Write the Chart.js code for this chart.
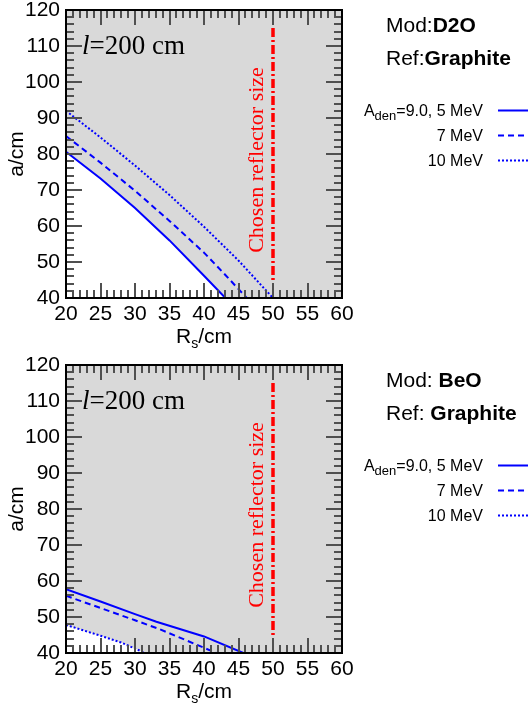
<!DOCTYPE html>
<html>
<head>
<meta charset="utf-8">
<script src="https://cdn.jsdelivr.net/npm/chart.js@4.4.1/dist/chart.umd.min.js"></script>
<style>
  html, body { margin: 0; padding: 0; background: #fff; }
  canvas { position: absolute; left: 0; }
  #top { top: 0; }
  #bottom { top: 355px; }
</style>
</head>
<body>
<canvas id="top" width="528" height="355"></canvas>
<canvas id="bottom" width="528" height="355"></canvas>
<script>
// D2O moderator, graphite reflector (top panel)
let d2oRs5 = [20, 25, 30, 35, 40, 43.1];
let d2oA5 = [80.6, 73.2, 65.0, 56.0, 46.2, 40];
let d2oRs7 = [20, 25, 30, 35, 40, 43, 46.2];
let d2oA7 = [85, 77.6, 69.8, 61.4, 52.6, 46.6, 40];
let d2oRs10 = [20, 25, 30, 35, 40, 45, 50];
let d2oA10 = [92, 84.6, 76.8, 68.6, 59.8, 50.4, 40];

// BeO moderator, graphite reflector (bottom panel)
let beoRs5 = [20, 25, 30, 33.1, 40, 45.7];
let beoA5 = [57.7, 54.3, 50.8, 48.7, 44.6, 40];
let beoRs7 = [20, 25, 30, 33.6, 41.8];
let beoA7 = [55.9, 52.5, 49.1, 46.6, 40];
let beoRs10 = [20, 25, 28, 31.5];
let beoA10 = [47.8, 44.8, 42.9, 40];

// chosen reflector size marker
let reflectorRs = [50, 50];
let reflectorA = [115, 45];

let energyLabels = ['5 MeV', '7 MeV', '10 MeV'];
let lineDashes = [[], [6, 4], [2, 2]];

const blue = '#0000ff';
const sans = '"Liberation Sans", Arial, sans-serif';
const serif = '"Liberation Serif", "Times New Roman", serif';

function pts(xs, ys) {
  return xs.map((x, i) => ({ x: x, y: ys[i] }));
}

function textRuns(ctx, parts, x, y, align) {
  let w = 0;
  parts.forEach(p => { ctx.font = p[1]; w += ctx.measureText(p[0]).width; });
  let cx = align === 'right' ? x - w : align === 'center' ? x - w / 2 : x;
  ctx.textAlign = 'left';
  ctx.textBaseline = 'alphabetic';
  parts.forEach(p => {
    ctx.font = p[1];
    ctx.fillText(p[0], cx, y + (p[2] || 0));
    cx += ctx.measureText(p[0]).width;
  });
}

const panelDeco = {
  id: 'panelDeco',
  beforeDatasetsDraw(chart) {
    const { ctx, chartArea: a } = chart;
    ctx.save();
    ctx.fillStyle = '#d9d9d9';
    ctx.fillRect(a.left, a.top, a.width, a.height);
    ctx.restore();
  },
  afterDatasetsDraw(chart) {
    const ctx = chart.ctx;
    const a = chart.chartArea;
    const info = chart.options.plugins.panelDeco;
    const xs = chart.scales.x, ys = chart.scales.y;
    ctx.save();
    ctx.setLineDash([]);

    // inward ticks on all four sides
    ctx.fillStyle = '#505050';
    for (let v = xs.min; v <= xs.max; v += 1) {
      const px = Math.round(xs.getPixelForValue(v)) - 1;
      const len = (v % 5 === 0) ? 15 : 8;
      ctx.fillRect(px, a.bottom - len, 2, len);
      ctx.fillRect(px, a.top, 2, len);
    }
    for (let v = ys.min; v <= ys.max; v += 2) {
      const py = Math.round(ys.getPixelForValue(v)) - 1;
      const len = (v % 10 === 0) ? 16 : 8;
      ctx.fillRect(a.left, py, len, 2);
      ctx.fillRect(a.right - len, py, len, 2);
    }
    // frame
    ctx.fillStyle = '#000000';
    ctx.fillRect(a.left - 1, a.top - 1, a.right - a.left + 2, 2);
    ctx.fillRect(a.left - 1, a.bottom - 1, a.right - a.left + 2, 2);
    ctx.fillRect(a.left - 1, a.top - 1, 2, a.bottom - a.top + 2);
    ctx.fillRect(a.right - 1, a.top - 1, 2, a.bottom - a.top + 2);

    // axis titles
    ctx.save();
    ctx.translate(17, (a.top + a.bottom) / 2);
    ctx.rotate(-Math.PI / 2);
    ctx.font = '21px ' + sans;
    ctx.textAlign = 'center';
    ctx.textBaseline = 'middle';
    ctx.fillText('a/cm', 0, 0);
    ctx.restore();
    textRuns(ctx, [['R', '21px ' + sans], ['s', '14px ' + sans, 5], ['/cm', '21px ' + sans]],
      (a.left + a.right) / 2, a.bottom + 45, 'center');

    // l = 200 cm
    textRuns(ctx, [['l', 'italic 27px ' + serif], ['=200 cm', '27px ' + serif]], 82, a.top + 43.5, 'left');

    // reflector label
    ctx.save();
    ctx.fillStyle = '#ff0000';
    ctx.translate(257, 160);
    ctx.rotate(-Math.PI / 2);
    ctx.font = '22px ' + serif;
    ctx.textAlign = 'center';
    ctx.textBaseline = 'middle';
    ctx.fillText('Chosen reflector size', 0, 0);
    ctx.restore();

    // moderator / reflector names
    textRuns(ctx, [[info.modPrefix, '21px ' + sans], [info.mod, 'bold 21px ' + sans]], 386, 32, 'left');
    textRuns(ctx, [[info.refPrefix, '21px ' + sans], [info.ref, 'bold 21px ' + sans]], 386, 65, 'left');

    // legend
    for (let i = 0; i < 3; i++) {
      const y = 110 + 25 * i;
      if (i === 0) {
        textRuns(ctx, [['A', '16px ' + sans], ['den', '13px ' + sans, 4], ['=9.0, ' + energyLabels[i], '16px ' + sans]], 483, y + 6, 'right');
      } else {
        textRuns(ctx, [[energyLabels[i], '16px ' + sans]], 483, y + 6, 'right');
      }
      ctx.strokeStyle = blue;
      ctx.lineWidth = 2;
      ctx.setLineDash(lineDashes[i]);
      ctx.beginPath();
      ctx.moveTo(498, y + 0.5);
      ctx.lineTo(540, y + 0.5);
      ctx.stroke();
      ctx.setLineDash([]);
    }
    ctx.restore();
  }
};

function makePanel(id, series, lowest, info) {
  let datasets = series.map((s, i) => ({
    data: pts(s[0], s[1]),
    borderColor: blue,
    borderWidth: 2,
    borderDash: lineDashes[i],
    backgroundColor: '#ffffff',
    fill: i === lowest ? 'start' : false,
    pointRadius: 0,
    tension: 0
  }));
  datasets.push({
    data: pts(reflectorRs, reflectorA),
    borderColor: '#ff0000',
    borderWidth: 3.5,
    borderDash: [9, 3, 2, 3],
    fill: false,
    pointRadius: 0
  });

  return new Chart(document.getElementById(id).getContext('2d'), {
    type: 'line',
    data: { datasets: datasets },
    options: {
      responsive: false,
      animation: false,
      layout: { padding: { top: 10, right: 186, left: 0, bottom: 0 } },
      plugins: {
        legend: { display: false },
        tooltip: { enabled: false },
        panelDeco: info
      },
      scales: {
        x: {
          type: 'linear',
          min: 20,
          max: 60,
          afterFit: (s) => { s.height = 57; s.paddingLeft = 0; s.paddingRight = 0; },
          grid: { display: false, drawTicks: false },
          border: { display: false },
          ticks: {
            stepSize: 5, padding: 4, maxRotation: 0, autoSkip: false,
            color: '#000', font: { family: sans, size: 21 }
          }
        },
        y: {
          type: 'linear',
          min: 40,
          max: 120,
          afterFit: (s) => { s.width = 66; s.paddingTop = 0; s.paddingBottom = 0; },
          grid: { display: false, drawTicks: false },
          border: { display: false },
          ticks: {
            stepSize: 10, padding: 6,
            color: '#000', font: { family: sans, size: 21 }
          }
        }
      }
    },
    plugins: [panelDeco]
  });
}

makePanel('top', [[d2oRs5, d2oA5], [d2oRs7, d2oA7], [d2oRs10, d2oA10]], 0,
  { modPrefix: 'Mod:', mod: 'D2O', refPrefix: 'Ref:', ref: 'Graphite' });
makePanel('bottom', [[beoRs5, beoA5], [beoRs7, beoA7], [beoRs10, beoA10]], 2,
  { modPrefix: 'Mod: ', mod: 'BeO', refPrefix: 'Ref: ', ref: 'Graphite' });
</script>
</body>
</html>
